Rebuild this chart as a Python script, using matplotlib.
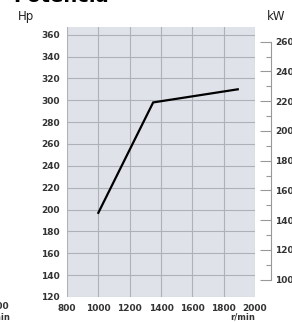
import numpy as np
import matplotlib.pyplot as plt
from matplotlib.ticker import FixedLocator

# Datos
rpm = [1000, 1350, 1890]
potencia_hp = [197, 298, 310]
x_ticks = [800, 1000, 1200, 1400, 1600, 1800, 2000]
hp_ticks = list(range(120, 361, 20))
kw_ticks = list(range(100, 261, 20))
kw_minor = list(range(110, 251, 20))
HP_A_KW = 0.7355

W, H = 292, 322
fig = plt.figure(figsize=(W / 100, H / 100), dpi=100)
ax = fig.add_axes([67 / W, 1 - 297 / H, 188 / W, 270 / H])

ax.set_facecolor("#dfe3e9")
ax.plot(rpm, potencia_hp, color="black", lw=1.6, solid_joinstyle="miter", zorder=3)

ax.set_xlim(800, 2000)
ax.set_ylim(120, 367)
ax.set_xticks(x_ticks)
ax.set_yticks(hp_ticks)
ax.grid(True, color="#aeb2b8", lw=0.8)
ax.set_axisbelow(True)
for s in ax.spines.values():
    s.set_visible(False)
ax.tick_params(length=0, labelsize=6.5, colors="#333333", pad=5)
for lbl in ax.get_xticklabels() + ax.get_yticklabels():
    lbl.set_fontweight("bold")

# Eje secundario en kW
ax2 = ax.twinx()
ax2.set_ylim(120 * HP_A_KW, 367 * HP_A_KW)
ax2.set_yticks(kw_ticks)
ax2.yaxis.set_minor_locator(FixedLocator(kw_minor))
for s in ["top", "left", "bottom"]:
    ax2.spines[s].set_visible(False)
ax2.spines["right"].set_position(("outward", 11.5))
ax2.spines["right"].set_bounds(100, 260)
ax2.spines["right"].set_color("#999999")
ax2.spines["right"].set_linewidth(0.8)
ax2.tick_params(axis="y", which="major", direction="in", length=8, width=0.8,
                color="#999999", labelsize=6.5, labelcolor="#333333", pad=3)
ax2.tick_params(axis="y", which="minor", direction="in", length=3.5, width=0.8,
                color="#999999")
for lbl in ax2.get_yticklabels():
    lbl.set_fontweight("bold")

# Textos
fig.text(13 / W, 1 - 1.5 / H, "Potencia", fontsize=14, fontweight="bold", va="baseline")
fig.text(18 / W, 1 - 20 / H, "Hp", fontsize=8.5, va="baseline", color="#222222")
fig.text(267 / W, 1 - 20 / H, "kW", fontsize=8.5, va="baseline", color="#222222")
fig.text(255 / W, 1 - 319 / H, "r/min", fontsize=6, fontweight="bold", ha="right",
         va="baseline", color="#333333")
# fragmentos del gráfico vecino
fig.text(9 / W, 1 - 309 / H, "2000", fontsize=6.5, fontweight="bold", ha="right",
         va="baseline", color="#333333")
fig.text(10 / W, 1 - 319 / H, "r/min", fontsize=6, fontweight="bold", ha="right",
         va="baseline", color="#333333")

fig.savefig("out.png", dpi=100)
